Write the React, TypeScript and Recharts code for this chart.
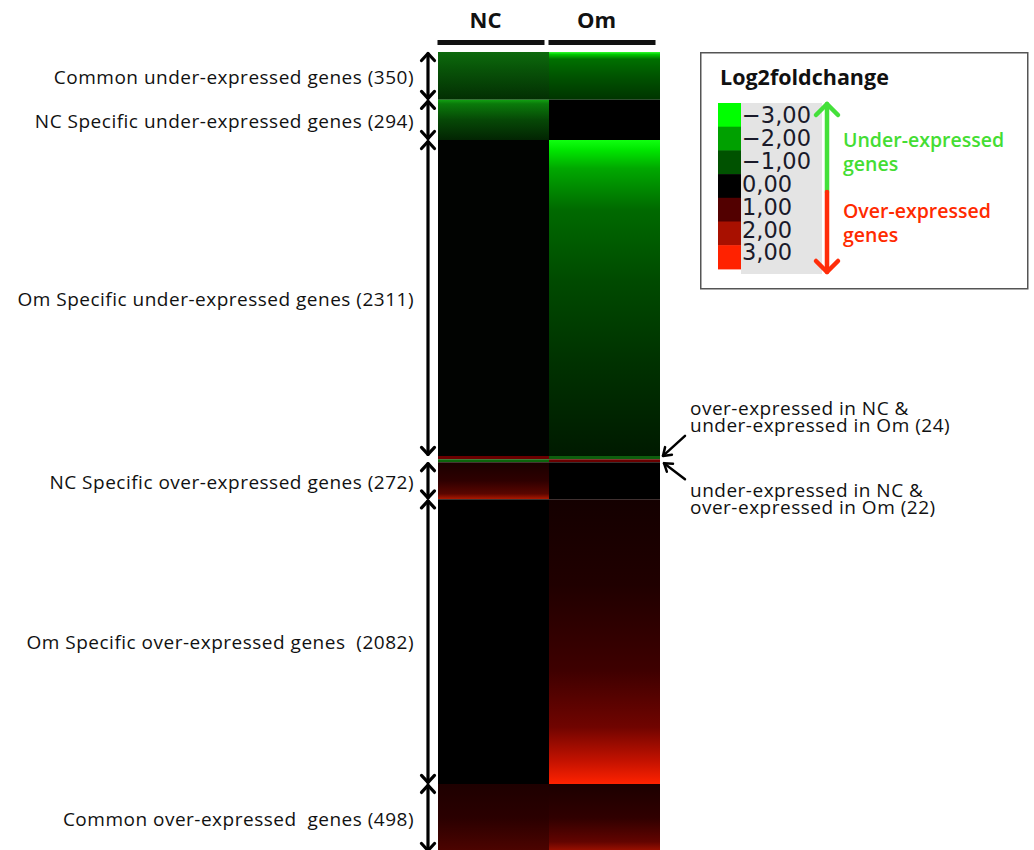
import React from "react";
import { BarChart, Bar, XAxis, YAxis, Cell, ReferenceArea, Legend } from "recharts";

// heatmap columns and gene groups (top to bottom)
const columns = ["NC", "Om"];
const segmentKeys = [
  "commonUnder",
  "ncUnder",
  "omUnder",
  "ncOverOmUnder",
  "ncUnderOmOver",
  "ncOver",
  "omOver",
  "commonOver",
];
const segmentCounts = [350, 294, 2311, 24, 22, 272, 2082, 498];
const segmentLabels = [
  "Common under-expressed genes (350)",
  "NC Specific under-expressed genes (294)",
  "Om Specific under-expressed genes (2311)",
  "over-expressed in NC &|under-expressed in Om (24)",
  "under-expressed in NC &|over-expressed in Om (22)",
  "NC Specific over-expressed genes (272)",
  "Om Specific over-expressed genes  (2082)",
  "Common over-expressed  genes (498)",
];
// which side the group is annotated on
const segmentSide = ["left", "left", "left", "rightAbove", "rightBelow", "left", "left", "left"];

const legendLabels = ["\u22123,00", "\u22122,00", "\u22121,00", "0,00", "1,00", "2,00", "3,00"];

// colours
const legendColors = ["#00ff00", "#00a000", "#005200", "#000000", "#520000", "#a81000", "#ff2200"];

type Stop = [number, string];
const gradients: Record<string, { NC: Stop[]; Om: Stop[] }> = {
  commonUnder: {
    NC: [[0, "#0d6a0d"], [0.35, "#085408"], [1, "#032e03"]],
    Om: [[0, "#30ff30"], [0.05, "#00c800"], [0.15, "#007000"], [0.5, "#005400"], [1, "#003400"]],
  },
  ncUnder: {
    NC: [[0, "#12a012"], [0.1, "#0a7a0a"], [0.5, "#064806"], [1, "#022402"]],
    Om: [[0, "#000000"], [1, "#000000"]],
  },
  omUnder: {
    NC: [[0, "#010301"], [1, "#010301"]],
    Om: [[0, "#10ff10"], [0.03, "#00e800"], [0.09, "#00a800"], [0.22, "#006a00"], [0.45, "#004a00"], [0.7, "#003200"], [1, "#001a00"]],
  },
  ncOverOmUnder: {
    NC: [[0, "#6a0000"], [1, "#6a0000"]],
    Om: [[0, "#0e5e0e"], [1, "#0e5e0e"]],
  },
  ncUnderOmOver: {
    NC: [[0, "#0c640c"], [1, "#0c640c"]],
    Om: [[0, "#6a0000"], [1, "#6a0000"]],
  },
  ncOver: {
    NC: [[0, "#1a0000"], [0.5, "#2e0000"], [0.85, "#5a0600"], [1, "#b41a00"]],
    Om: [[0, "#000000"], [1, "#000000"]],
  },
  omOver: {
    NC: [[0, "#000000"], [1, "#000000"]],
    Om: [[0, "#140000"], [0.3, "#200000"], [0.6, "#3e0000"], [0.8, "#700400"], [0.92, "#c41200"], [1, "#ff2200"]],
  },
  commonOver: {
    NC: [[0, "#1e0000"], [0.5, "#2a0000"], [1, "#4e0400"]],
    Om: [[0, "#1c0000"], [0.5, "#300000"], [0.85, "#620400"], [1, "#a41200"]],
  },
};

const total = segmentCounts.reduce((a, b) => a + b, 0);
const segmentStarts = segmentCounts.map((_, i) =>
  segmentCounts.slice(0, i).reduce((a, b) => a + b, 0)
);

const data = columns.map((col) => {
  const row: Record<string, string | number> = { col };
  segmentKeys.forEach((k, i) => (row[k] = segmentCounts[i]));
  return row;
});

const gradId = (key: string, col: string) => `g-${key}-${col}`;

function ColumnTick({ x, y, payload }: any) {
  return (
    <g>
      <text x={x - 8} y={y - 24} textAnchor="middle" fontWeight="bold" fontSize={22} fill="#111">
        {payload.value}
      </text>
      <rect x={x - 56} y={y - 12} width={107} height={5} fill="#111" />
    </g>
  );
}

function DoubleArrow({ x, y1, y2 }: { x: number; y1: number; y2: number }) {
  const hw = 6.5;
  const hh = 7;
  const a = y1 + 1.5;
  const b = y2 - 1.5;
  return (
    <g stroke="#000" strokeWidth={3.2} fill="none" strokeLinecap="round" strokeLinejoin="round">
      <line x1={x} y1={a} x2={x} y2={b} />
      <polyline points={`${x - hw},${a + hh} ${x},${a} ${x + hw},${a + hh}`} />
      <polyline points={`${x - hw},${b - hh} ${x},${b} ${x + hw},${b - hh}`} />
    </g>
  );
}

function PointerArrow({ x1, y1, x2, y2 }: { x1: number; y1: number; x2: number; y2: number }) {
  // arrow from (x1,y1) to tip (x2,y2)
  const ang = Math.atan2(y2 - y1, x2 - x1);
  const len = 9;
  const spread = 0.6;
  const p1 = [x2 - len * Math.cos(ang - spread), y2 - len * Math.sin(ang - spread)];
  const p2 = [x2 - len * Math.cos(ang + spread), y2 - len * Math.sin(ang + spread)];
  return (
    <g stroke="#000" strokeWidth={2.5} fill="none" strokeLinecap="round" strokeLinejoin="round">
      <line x1={x1} y1={y1} x2={x2} y2={y2} />
      <polyline points={`${p1[0]},${p1[1]} ${x2},${y2} ${p2[0]},${p2[1]}`} />
    </g>
  );
}

const labelFont = { fontSize: 19, letterSpacing: 0.5, fill: "#111" };

function SegmentMarker(props: any) {
  const { x, y, width, height, index } = props;
  const side = segmentSide[index];
  const label = segmentLabels[index];
  if (side === "left") {
    const ax = x - 10;
    return (
      <g>
        <DoubleArrow x={ax} y1={y} y2={y + height} />
        <text
          x={ax - 14}
          y={y + height / 2 + 1}
          dy="0.36em"
          textAnchor="end"
          {...labelFont}
          style={{ whiteSpace: "pre" }}
        >
          {label}
        </text>
      </g>
    );
  }
  const right = x + width;
  const lines = label.split("|");
  if (side === "rightAbove") {
    return (
      <g>
        <PointerArrow x1={right + 25} y1={y - 20} x2={right + 3} y2={y} />
        {lines.map((l, i) => (
          <text key={i} x={right + 30} y={y - 41 + i * 17} {...labelFont}>
            {l}
          </text>
        ))}
      </g>
    );
  }
  const b = y + height;
  return (
    <g>
      <PointerArrow x1={right + 25} y1={b + 17} x2={right + 4} y2={b + 1} />
      {lines.map((l, i) => (
        <text key={i} x={right + 30} y={b + 35 + i * 17} {...labelFont}>
          {l}
        </text>
      ))}
    </g>
  );
}

function LegendBox() {
  const rowH = 23.7;
  return (
    <svg width={330} height={239} style={{ display: "block" }}>
      <rect x={0.75} y={0.75} width={327} height={236} fill="#fff" stroke="#555" strokeWidth={1.5} />
      <text x={20} y={33} fontWeight="bold" fontSize={21.5} fill="#111">
        Log2foldchange
      </text>
      <rect x={41} y={51} width={81} height={171} fill="#e4e4e4" />
      {legendColors.map((c, i) => (
        <rect key={c} x={18} y={51 + i * rowH} width={23} height={rowH + 0.5} fill={c} />
      ))}
      {legendLabels.map((l, i) => (
        <text
          key={l}
          x={42}
          y={71 + i * 22.9}
          fontSize={22.5}
          fontFamily="DejaVu Sans"
          fill="#1a1a2a"
        >
          {l}
        </text>
      ))}
      <g fill="none" strokeWidth={4.5} strokeLinecap="round" strokeLinejoin="round">
        <line x1={127} y1={52} x2={127} y2={140} stroke="#44e03a" />
        <polyline points="116,63 127,52 138,63" stroke="#44e03a" />
        <line x1={127} y1={140} x2={127} y2={220} stroke="#ff2d0a" />
        <polyline points="116,209 127,220 138,209" stroke="#ff2d0a" />
      </g>
      <g fontSize={19.5} fontWeight={600}>
        <text x={143} y={95} fill="#44dd33">Under-expressed</text>
        <text x={143} y={119} fill="#44dd33">genes</text>
        <text x={143} y={166} fill="#ff2a00">Over-expressed</text>
        <text x={143} y={190} fill="#ff2a00">genes</text>
      </g>
    </svg>
  );
}

export default function App() {
  return (
    <div
      style={{
        position: "fixed",
        left: 0,
        top: 0,
        width: 1034,
        height: 850,
        overflow: "hidden",
        background: "#fff",
        fontFamily: "'Open Sans', sans-serif",
      }}
    >
      <BarChart
        width={1034}
        height={870}
        data={data}
        margin={{ top: 0, right: 374, bottom: 18, left: 438 }}
        barCategoryGap={0}
        barGap={0}
      >
        <defs>
          {segmentKeys.map((k) =>
            columns.map((c) => (
              <linearGradient key={gradId(k, c)} id={gradId(k, c)} x1="0" y1="0" x2="0" y2="1">
                {gradients[k][c as "NC" | "Om"].map(([o, col], i) => (
                  <stop key={i} offset={o} stopColor={col} />
                ))}
              </linearGradient>
            ))
          )}
        </defs>
        <XAxis
          dataKey="col"
          orientation="top"
          height={52}
          axisLine={false}
          tickLine={false}
          tickSize={0}
          tickMargin={0}
          tick={<ColumnTick />}
          interval={0}
        />
        <YAxis type="number" domain={[0, total]} reversed hide allowDataOverflow />
        {segmentKeys.map((k) => (
          <Bar key={k} dataKey={k} stackId="heat" isAnimationActive={false}>
            {columns.map((c) => (
              <Cell key={c} fill={`url(#${gradId(k, c)})`} />
            ))}
          </Bar>
        ))}
        {segmentKeys.map((k, i) => (
          <ReferenceArea
            key={`ref-${k}`}
            y1={segmentStarts[i]}
            y2={segmentStarts[i] + segmentCounts[i]}
            ifOverflow="visible"
            shape={(p: any) => <SegmentMarker {...p} index={i} />}
          />
        ))}
        <Legend
          verticalAlign="middle"
          align="center"
          layout="vertical"
          content={() => <LegendBox />}
          wrapperStyle={{ position: "absolute", left: 700, top: 52, width: 330, height: 239 }}
        />
      </BarChart>
    </div>
  );
}
